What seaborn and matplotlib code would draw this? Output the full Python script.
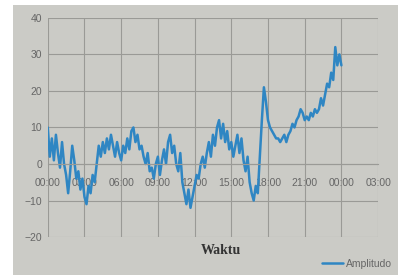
import numpy as np
import pandas as pd
import matplotlib
matplotlib.use("Agg")
import matplotlib.pyplot as plt
import seaborn as sns
from matplotlib.patches import Rectangle

# ---- data (10-minute readings) ----
amplitudo = [
    10, 2, 7, 1, 8, 3,          # 00
    -1, 6, 0, -3, -8, -2,       # 01
    5, 1, -4, -2, -7, -4,       # 02
    -9, -11, -6, -8, -3, -5,    # 03
    0, 5, 2, 6, 3, 7,           # 04
    4, 8, 5, 2, 6, 3,           # 05
    1, 5, 3, 7, 4, 9,           # 06
    10, 6, 8, 4, 5, 2,          # 07
    0, 3, -2, -1, -4, 0,        # 08
    2, -3, 1, 4, 0, 6,          # 09
    8, 3, 5, 0, -2, 3,          # 10
    -5, -8, -11, -7, -12, -9,   # 11
    -6, -3, -4, 0, 2, -1,       # 12
    3, 6, 2, 8, 5, 10,          # 13
    12, 7, 11, 6, 9, 4,         # 14
    6, 2, 5, 8, 3, 7,           # 15
    1, -2, 2, -5, -8, -10,      # 16
    -6, -8, 2, 12, 21, 17,      # 17
    12, 10, 9, 8, 7, 7,         # 18
    6, 7, 8, 6, 8, 9,           # 19
    11, 10, 12, 13, 15, 14,     # 20
    12, 13, 12, 14, 13, 15,     # 21
    14, 15, 18, 16, 19, 22,     # 22
    21, 25, 23, 32, 27, 30,     # 23
    27,
]
jam = [i / 6 for i in range(len(amplitudo))]

x_ticks = [0, 3, 6, 9, 12, 15, 18, 21, 24, 27]
x_labels = ["00:00", "03:00", "06:00", "09:00", "12:00", "15:00",
            "18:00", "21:00", "00:00", "03:00"]
y_ticks = [-20, -10, 0, 10, 20, 30, 40]

df = pd.DataFrame({"Waktu": jam, "Amplitudo": amplitudo})

# ---- style ----
bg = "#cbcbc6"
sns.set_style("white")
plt.rcParams["font.family"] = ["Liberation Sans", "DejaVu Sans"]

fig = plt.figure(figsize=(3.98, 2.75), dpi=100, facecolor=bg)
ax = fig.add_axes([0.12, 0.138, 0.83, 0.797])
ax.set_facecolor(bg)

sns.lineplot(data=df, x="Waktu", y="Amplitudo", ax=ax, color="#2f86c3",
             linewidth=1.8, legend=False)

ax.set_xlim(0, 27)
ax.set_ylim(-20, 40)
ax.set_xticks(x_ticks)
ax.set_xticklabels(x_labels)
ax.set_yticks(y_ticks)
ax.grid(True, color="#9a9a96", linewidth=0.8)
ax.tick_params(length=0, labelsize=7.5, labelcolor="#666666", pad=4)
ax.tick_params(axis="x", pad=10)

for s in ["top", "right", "left"]:
    ax.spines[s].set_visible(False)
ax.spines["bottom"].set_position(("data", 0))
ax.spines["bottom"].set_color("#9a9a96")
ax.spines["bottom"].set_linewidth(0.8)

ax.set_xlabel("")
ax.set_ylabel("")
fig.text(0.555, 0.09, "Waktu", ha="center", va="center", fontsize=10,
         fontweight="bold", family=["Liberation Serif", "DejaVu Serif"],
         color="#333333")

fig.legend(ax.get_lines()[:1], ["Amplitudo"], loc="lower right",
           bbox_to_anchor=(1.0, 0.0), frameon=False,
           fontsize=7.5, labelcolor="#666666", handlelength=2.0,
           handletextpad=0.3, borderaxespad=0.2)

# paper edge strips of the photo
fig.patches.append(Rectangle((0, 0), 13 / 398, 1, transform=fig.transFigure,
                             facecolor="white", edgecolor="none", zorder=-1))
fig.patches.append(Rectangle((0, 1 - 5 / 275), 1, 5 / 275, transform=fig.transFigure,
                             facecolor="white", edgecolor="none", zorder=-1))

fig.savefig("out.png", dpi=100, facecolor=bg)
